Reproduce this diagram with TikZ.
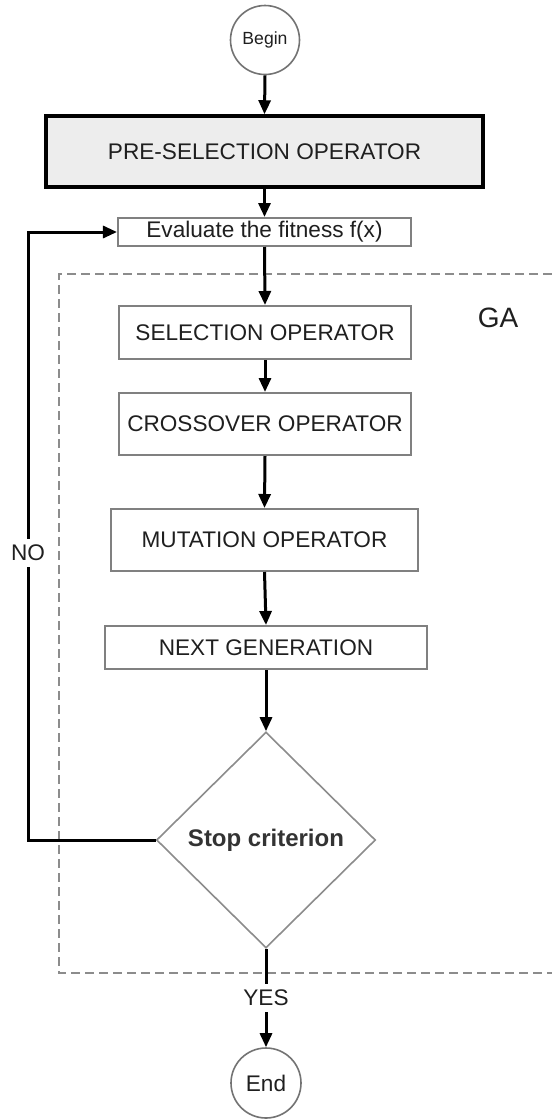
\documentclass[tikz,border=0pt]{standalone}
\usepackage{fontspec}
\setmainfont{Liberation Sans}
\usetikzlibrary{arrows.meta,shapes.geometric}
\begin{document}
\begin{tikzpicture}[x=1bp,y=-1bp,
  every node/.style={text=black!88},
  txt/.style={font=\fontsize{22.6bp}{27bp}\selectfont},
  box/.style={txt, draw=black!50, line width=2bp, rectangle, inner sep=0pt},
  term/.style={draw=black!55, line width=1.6bp, circle, inner sep=0pt, minimum size=69bp},
  flow/.style={line width=3bp, -{Triangle[length=14bp,width=12bp]}},
  lbl/.style={txt, fill=white, inner sep=6bp},
  gaframe/.style={black!45, line width=2.2bp, dash pattern=on 9bp off 5bp}
]
\useasboundingbox (0,0) rectangle (552,1120);
\fill[white] (0,0) rectangle (552,1120);
% GA frame (open on the right, runs off the picture)
\draw[gaframe] (552,274) -- (59,274) -- (59,973) -- (552,973);
\node[txt, font=\fontsize{28bp}{32bp}\selectfont] (ga) at (498,318) {GA};

\node[term, font=\fontsize{17.6bp}{20bp}\selectfont] (begin) at (265,40) {Begin};
\node[box, draw=black, line width=3.5bp, fill=black!7, minimum width=437bp, minimum height=71bp] (pre) at (264.5,151.5) {PRE-SELECTION OPERATOR};
\node[box, minimum width=293bp, minimum height=28bp] (eval) at (264.5,232) {Evaluate the fitness f(x)};
\node[box, minimum width=292bp, minimum height=53bp] (sel) at (265,332.5) {SELECTION OPERATOR};
\node[box, minimum width=292bp, minimum height=62bp] (cross) at (265,424) {CROSSOVER OPERATOR};
\node[box, minimum width=307bp, minimum height=62bp] (mut) at (264.5,540) {MUTATION OPERATOR};
\node[box, minimum width=322bp, minimum height=43bp] (next) at (266,647.5) {NEXT GENERATION};
\node[diamond, draw=black!45, line width=1.6bp, minimum width=219bp, minimum height=216bp, inner sep=0pt,
      font=\bfseries\fontsize{24bp}{28bp}\selectfont, text=black!80] (stop) at (266,840) {Stop criterion};
\node[term, minimum size=70bp] (end) at (266,1083) {\fontsize{22.6bp}{27bp}\selectfont End};

\draw[flow] (begin.south) -- (pre.north);
\draw[flow] (pre.south) -- (eval.north);
\draw[flow] (eval.south) -- (sel.north);
\draw[flow] (sel.south) -- (cross.north);
\draw[flow] (cross.south) -- (mut.north);
\draw[flow] (mut.south) -- (next.north);
\draw[flow] (next.south) -- (stop.north);
\draw[flow] (stop.south) -- node[lbl] {YES} (end.north);
\coordinate (lx) at (28,0);
\draw[flow] (stop.west) -- (stop.west -| lx) -- node[lbl, pos=0.472] {NO} (eval.west -| lx) -- (eval.west);
\end{tikzpicture}
\end{document}
